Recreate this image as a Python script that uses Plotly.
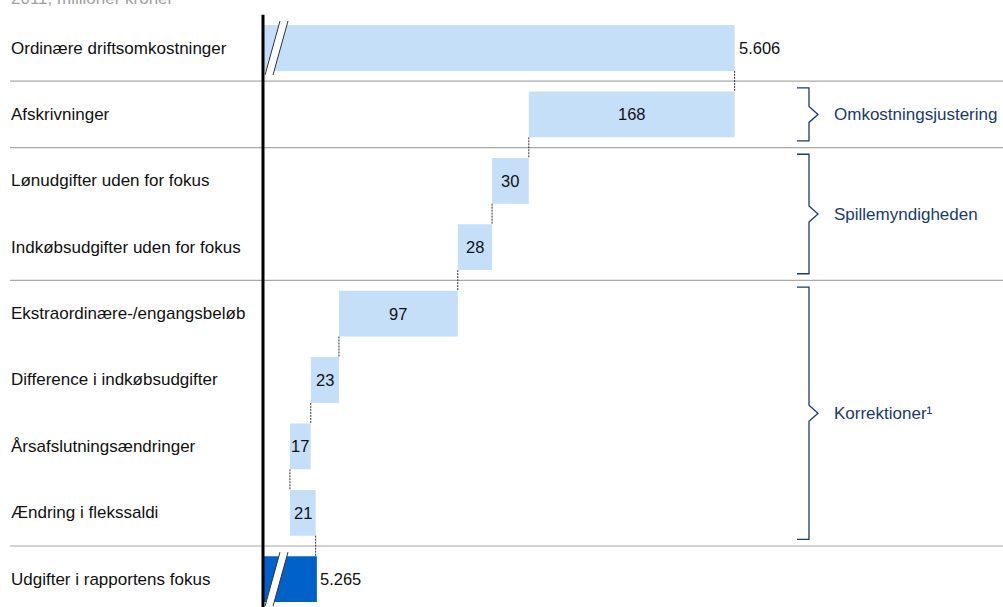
import plotly.graph_objects as go

# ---------------- data ----------------
categories = [
    "Ordinære driftsomkostninger",
    "Afskrivninger",
    "Lønudgifter uden for fokus",
    "Indkøbsudgifter uden for fokus",
    "Ekstraordinære-/engangsbeløb",
    "Difference i indkøbsudgifter",
    "Årsafslutningsændringer",
    "Ændring i flekssaldi",
    "Udgifter i rapportens fokus",
]
start_total = 5606
deltas = [-168, -30, -28, -97, -23, -17, 21]
end_total = 5265
delta_labels = ["168", "30", "28", "97", "23", "17", "21"]

group_names = ["Omkostningsjustering", "Spillemyndigheden", "Korrektioner¹"]
group_rows = [(1, 1), (2, 3), (4, 7)]
separator_after = [0, 1, 3, 7]

header = "2011, millioner kroner"

# ---------------- layout constants ----------------
W, H = 1003, 607
AXIS_BREAK = 5221          # value where the (broken) axis starts
X_RANGE = [5006.3, 5825.1]
Y_RANGE = [8.419, -0.723]
PX_X = W / (X_RANGE[1] - X_RANGE[0])
PX_Y = H / (Y_RANGE[0] - Y_RANGE[1])
BAR_W = 0.69

LIGHT = "#C6DFF9"
DARK = "#0062C8"
NAVY = "#1B3A6B"
FONT = "Liberation Sans, Arial, Helvetica, sans-serif"
FS_LABEL = 17
FS_NUM = 16.5

def dx(px):
    return px / PX_X

def dy(px):
    return px / PX_Y

# compute bars
bases, lengths, colors = [], [], []
running = start_total
bases.append(AXIS_BREAK); lengths.append(start_total - AXIS_BREAK); colors.append(LIGHT)
ends = [start_total]
for d in deltas:
    new = running + d
    bases.append(min(running, new))
    lengths.append(abs(d))
    colors.append(LIGHT)
    running = new
    ends.append(running)
bases.append(AXIS_BREAK); lengths.append(end_total - AXIS_BREAK); colors.append(DARK)

ys = list(range(len(categories)))

fig = go.Figure()
fig.add_trace(go.Bar(
    y=ys, x=lengths, base=bases, orientation="h",
    marker=dict(color=colors, line=dict(width=0)),
    width=BAR_W, hoverinfo="skip", showlegend=False,
))

shapes = []
annotations = []

# separators
for s in separator_after:
    shapes.append(dict(type="line", xref="paper", yref="y",
                       x0=10 / W, x1=1, y0=s + 0.5, y1=s + 0.5,
                       line=dict(color="#A8A8A8", width=1.2)))

# connectors
for i in range(len(categories) - 1):
    xv = ends[i] if i < len(ends) else ends[-1]
    shapes.append(dict(type="line", xref="x", yref="y",
                       x0=xv, x1=xv, y0=i + BAR_W / 2, y1=i + 1 - BAR_W / 2,
                       line=dict(color="#333333", width=1, dash="2px,1px")))

# axis line
shapes.append(dict(type="line", xref="x", yref="y",
                   x0=AXIS_BREAK, x1=AXIS_BREAK, y0=-0.5, y1=Y_RANGE[0],
                   line=dict(color="black", width=3)))

# break marks on total bars
for row in (0, len(categories) - 1):
    yb = row + dy(27)
    yt = row - dy(27)
    xb0 = AXIS_BREAK + dx(2)
    xt0 = AXIS_BREAK + dx(17)
    gap = dx(8)
    shapes.append(dict(type="path", xref="x", yref="y",
                       path=f"M{xb0},{yb} L{xt0},{yt} L{xt0+gap},{yt} L{xb0+gap},{yb} Z",
                       fillcolor="white", line=dict(width=0)))
    for off in (0, gap):
        shapes.append(dict(type="line", xref="x", yref="y",
                           x0=xb0 + off, x1=xt0 + off, y0=yb, y1=yt,
                           line=dict(color="#333333", width=1)))

# brackets
xv = 809 / W
xs = 797 / W
xt = 818 / W
for (r0, r1), name in zip(group_rows, group_names):
    top = r0 - 0.4
    bot = r1 + 0.4
    mid = (r0 + r1) / 2
    path = (f"M{xs},{top} L{xv},{top} L{xv},{mid - dy(8)} L{xt},{mid} "
            f"L{xv},{mid + dy(8)} L{xv},{bot} L{xs},{bot}")
    shapes.append(dict(type="path", xref="paper", yref="y", path=path,
                       line=dict(color=NAVY, width=1.3)))
    annotations.append(dict(xref="paper", yref="y", x=832 / W, y=mid,
                            xanchor="left", yanchor="middle", text=name,
                            showarrow=False, font=dict(color=NAVY, size=FS_LABEL, family=FONT)))

# category labels
for i, c in enumerate(categories):
    annotations.append(dict(xref="paper", yref="y", x=9 / W, y=i, text=c,
                            xanchor="left", yanchor="middle", showarrow=False,
                            font=dict(color="#111111", size=FS_LABEL, family=FONT)))

# value labels
fmt = lambda v: f"{v:,}".replace(",", ".")
annotations.append(dict(xref="x", yref="y", x=start_total, y=0, text=fmt(start_total),
                        xanchor="left", xshift=2, showarrow=False,
                        font=dict(color="#111111", size=FS_NUM, family=FONT)))
annotations.append(dict(xref="x", yref="y", x=end_total, y=len(categories) - 1,
                        text=fmt(end_total), xanchor="left", xshift=1, showarrow=False,
                        font=dict(color="#111111", size=FS_NUM, family=FONT)))
for k, lab in enumerate(delta_labels):
    i = k + 1
    annotations.append(dict(xref="x", yref="y", x=bases[i] + lengths[i] / 2, y=i,
                            text=lab, xanchor="center", showarrow=False,
                            font=dict(color="#111111", size=FS_NUM, family=FONT)))

# header (cut at top, as in the reference)
annotations.append(dict(xref="paper", yref="paper", x=9 / W, y=1 - 10 / H,
                        text=header, xanchor="left", yanchor="bottom", showarrow=False,
                        font=dict(color="#A0A0A0", size=FS_LABEL, family=FONT)))

fig.update_layout(
    width=W, height=H,
    margin=dict(l=0, r=0, t=0, b=0, pad=0),
    paper_bgcolor="white", plot_bgcolor="white",
    xaxis=dict(range=X_RANGE, visible=False, fixedrange=True),
    yaxis=dict(range=Y_RANGE, visible=False, fixedrange=True),
    shapes=shapes, annotations=annotations,
    font=dict(family=FONT, size=FS_LABEL),
)

fig.write_html("out.html", config={"displayModeBar": False},
               post_script="document.body.style.margin='0';")
